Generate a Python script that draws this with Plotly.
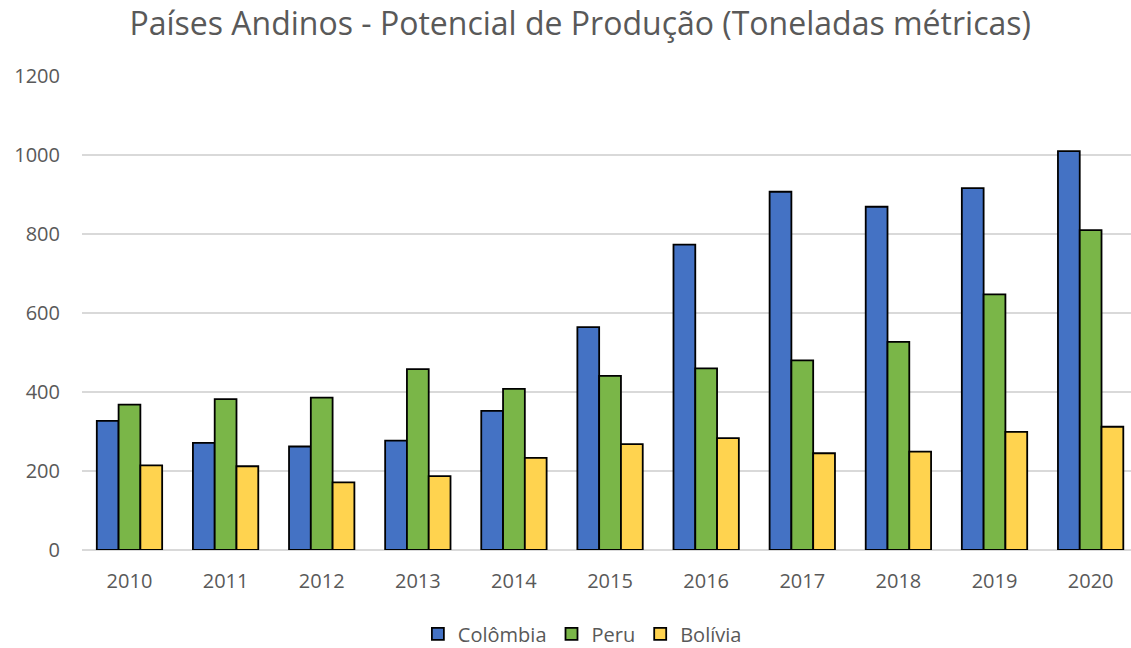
import plotly.graph_objects as go

years = ["2010", "2011", "2012", "2013", "2014", "2015", "2016", "2017", "2018", "2019", "2020"]
colombia = [327, 271, 262, 277, 352, 564, 773, 907, 869, 916, 1010]
peru = [368, 382, 386, 458, 408, 441, 460, 480, 527, 647, 810]
bolivia = [214, 212, 171, 187, 233, 268, 283, 245, 249, 299, 312]

series = [("Colômbia", colombia, "#4472C4"), ("Peru", peru, "#7AB648"), ("Bolívia", bolivia, "#FFD34F")]

fig = go.Figure()
for name, vals, col in series:
    fig.add_trace(go.Bar(x=years, y=vals, name=name, marker=dict(color=col, line=dict(color="#000000", width=1.8))))

font = "Open Sans, Noto Sans, sans-serif"
fig.update_layout(
    width=1131, height=648,
    paper_bgcolor="white", plot_bgcolor="white",
    margin=dict(l=82, r=0, t=76, b=98, autoexpand=False),
    barmode="group", bargap=0.32, bargroupgap=0,
    title=dict(text="Países Andinos - Potencial de Produção (Toneladas métricas)", x=0.513, xanchor="center",
               y=0.964, yanchor="middle", font=dict(family=font, size=32, color="#595959")),
    font=dict(family=font, size=20, color="#595959"),
    xaxis=dict(type="category", range=[-0.494, 10.42], showgrid=False, ticks="", showline=False,
               tickfont=dict(size=20, color="#595959"), ticklabelstandoff=17),
    yaxis=dict(range=[0, 1200], dtick=200, showgrid=True, gridcolor="#D9D9D9", gridwidth=1.5, zeroline=True,
               zerolinecolor="#D9D9D9", zerolinewidth=1.5, ticks="", tickfont=dict(size=20, color="#595959"),
               ticklabelstandoff=21),
    legend=dict(orientation="h", x=0.477, xanchor="center", y=-0.177, yanchor="middle",
                font=dict(size=20, color="#595959"), itemwidth=30, traceorder="normal"),
)
fig.write_html("out.html", config={"displayModeBar": False},
               post_script="document.body.style.margin='0';document.body.style.overflow='hidden';")
